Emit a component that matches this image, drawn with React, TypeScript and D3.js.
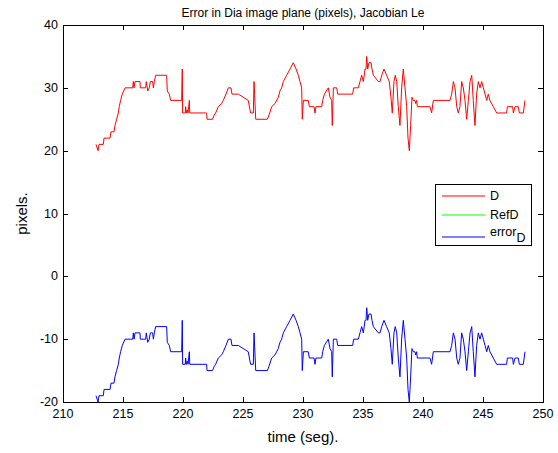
import React from "react";
import * as d3 from "d3";

// time axis samples (s)
const timeVals = [
  212.75, 212.92, 213.0, 213.36, 213.42, 213.92, 214.0, 214.25, 214.33, 214.47,
  214.61, 214.69, 214.8, 214.94, 215.17, 215.81, 215.86, 215.92, 216.0, 216.42,
  216.44, 216.89, 216.94, 217.06, 217.19, 217.28, 217.47, 217.53, 217.61, 217.72,
  218.64, 218.69, 218.86, 218.97, 219.89, 219.94, 219.97, 220.19, 220.22, 220.28,
  220.36, 220.42, 220.53, 220.56, 221.97, 222.0, 222.47, 222.58, 222.72, 222.94,
  223.22, 223.36, 223.58, 223.78, 224.0, 224.08, 224.61, 225.44, 225.58, 225.64,
  225.86, 225.92, 226.06, 227.03, 227.17, 227.39, 227.67, 227.94, 228.08, 228.22,
  228.36, 228.64, 228.92, 229.19, 229.42, 229.61, 229.75, 229.89, 229.94, 230.03,
  230.44, 230.53, 230.92, 231.0, 231.08, 231.56, 231.64, 231.78, 232.11, 232.25,
  232.39, 232.44, 232.53, 232.81, 232.89, 234.14, 234.22, 234.61, 234.75, 234.89,
  235.03, 235.17, 235.25, 235.31, 235.39, 235.5, 235.67, 235.75, 235.86, 236.28,
  236.42, 236.56, 236.75, 236.97, 237.19, 237.33, 237.44, 237.58, 237.69, 237.81,
  237.94, 238.08, 238.22, 238.36, 238.5, 238.64, 238.75, 238.86, 238.97, 239.08,
  239.19, 239.33, 239.39, 239.47, 239.53, 240.58, 240.72, 240.86, 242.25, 242.39,
  242.53, 242.67, 242.81, 242.94, 243.08, 243.22, 243.36, 243.5, 243.64, 243.78,
  243.92, 244.06, 244.19, 244.33, 244.47, 244.61, 244.75, 244.89, 245.03, 245.17,
  245.31, 245.44, 245.58, 245.86, 246.14, 246.97, 247.03, 247.47, 247.53, 247.67,
  247.94, 248.03, 248.36, 248.5,
];

// D (pixels)
const dVals = [
  21, 20, 21, 21, 22, 22, 23, 23, 24, 25,
  26, 27, 28, 29, 30, 30, 31, 30, 31, 31,
  30, 30, 31, 29.5, 30, 31, 31, 30, 31, 32,
  32, 29.5, 29, 28, 28, 33, 26, 26, 27, 26,
  26.5, 26, 28, 26, 26, 25, 25, 25.6, 26, 27,
  27.5, 28, 29, 30, 30, 29, 29, 28, 26.5, 26,
  26, 31, 25, 25, 25.7, 27, 27.5, 28.5, 29.5, 30,
  31, 32, 33, 34, 33, 32, 31, 30, 25, 28,
  28, 27, 27, 26, 27, 27, 28, 29, 30, 28.5,
  28, 24, 30, 30, 29, 29, 30, 30, 31, 32,
  31, 33, 33, 35, 33, 34, 34, 33, 32, 31,
  31, 32, 33, 32, 31, 28.5, 26, 31, 32, 31,
  27, 24, 30, 33, 30, 27, 22, 20, 24, 28.5,
  28, 28, 27.5, 28, 27, 27, 26, 28, 28, 29,
  31, 30, 27, 26, 27, 31, 30, 28, 25, 28,
  31, 32, 28, 24, 29, 31, 30, 31, 30, 29,
  28, 29, 28, 27, 26, 26, 27, 27, 26, 27,
  27, 26, 26, 28,
];

// error_D (pixels)
const errVals = [
  -19, -20, -19, -19, -18, -18, -17, -17, -16, -15,
  -14, -13, -12, -11, -10, -10, -9, -10, -9, -9,
  -10, -10, -9, -10.5, -10, -9, -9, -10, -9, -8,
  -8, -10.5, -11, -12, -12, -7, -14, -14, -13, -14,
  -13.5, -14, -12, -14, -14, -15, -15, -14.4, -14, -13,
  -12.5, -12, -11, -10, -10, -11, -11, -12, -13.5, -14,
  -14, -9, -15, -15, -14.3, -13, -12.5, -11.5, -10.5, -10,
  -9, -8, -7, -6, -7, -8, -9, -10, -15, -12,
  -12, -13, -13, -14, -13, -13, -12, -11, -10, -11.5,
  -12, -16, -10, -10, -11, -11, -10, -10, -9, -8,
  -9, -7, -7, -5, -7, -6, -6, -7, -8, -9,
  -9, -8, -7, -8, -9, -11.5, -14, -9, -8, -9,
  -13, -16, -10, -7, -10, -13, -18, -20, -16, -11.5,
  -12, -12, -12.5, -12, -13, -13, -14, -12, -12, -11,
  -9, -10, -13, -14, -13, -9, -10, -12, -15, -12,
  -9, -8, -12, -16, -11, -9, -10, -9, -10, -11,
  -12, -11, -12, -13, -14, -14, -13, -13, -14, -13,
  -13, -14, -14, -12,
];

// RefD (pixels)
const refTime = [212.75, 248.5];
const refVals = [40, 40];

const xTicks = [210, 215, 220, 225, 230, 235, 240, 245, 250];
const yTicks = [-20, -10, 0, 10, 20, 30, 40];

const W = 558;
const H = 453;
const left = 63;
const right = 543;
const top = 25;
const bottom = 402;
const font = "Liberation Sans, Arial, Helvetica, sans-serif";

export default function App() {
  const x = d3.scaleLinear().domain([210, 250]).range([left, right]);
  const y = d3.scaleLinear().domain([-20, 40]).range([bottom, top]);

  const line = d3
    .line<[number, number]>()
    .x((d) => x(d[0]))
    .y((d) => y(d[1]));

  const dPts = timeVals.map((t, i) => [t, dVals[i]] as [number, number]);
  const ePts = timeVals.map((t, i) => [t, errVals[i]] as [number, number]);
  const rPts = refTime.map((t, i) => [t, refVals[i]] as [number, number]);

  const tick = 5;

  return (
    <svg
      width={W}
      height={H}
      style={{ position: "absolute", left: 0, top: 0, background: "#fff" }}
      fontFamily={font}
    >
      <rect x={0} y={0} width={W} height={H} fill="#fff" />
      <defs>
        <clipPath id="plot">
          <rect x={left} y={top} width={right - left} height={bottom - top} />
        </clipPath>
      </defs>

      <g clipPath="url(#plot)" fill="none" strokeWidth={1}>
        <path d={line(dPts) || ""} stroke="#ff0000" />
        <path d={line(rPts) || ""} stroke="#00ff00" />
        <path d={line(ePts) || ""} stroke="#0000ff" />
      </g>

      {/* axes box */}
      <g shapeRendering="crispEdges" stroke="#000" strokeWidth={1}>
        <rect
          x={left + 0.5}
          y={top + 0.5}
          width={right - left}
          height={bottom - top}
          fill="none"
        />
        {xTicks.map((t) => (
          <g key={"x" + t}>
            <line x1={x(t) + 0.5} x2={x(t) + 0.5} y1={bottom} y2={bottom - tick} />
            <line x1={x(t) + 0.5} x2={x(t) + 0.5} y1={top} y2={top + tick} />
          </g>
        ))}
        {yTicks.map((t) => (
          <g key={"y" + t}>
            <line x1={left} x2={left + tick} y1={y(t) + 0.5} y2={y(t) + 0.5} />
            <line x1={right} x2={right - tick} y1={y(t) + 0.5} y2={y(t) + 0.5} />
          </g>
        ))}
      </g>

      <g fontSize={12.5} fill="#000">
        {xTicks.map((t) => (
          <text key={"xl" + t} x={x(t)} y={bottom + 16} textAnchor="middle">
            {t}
          </text>
        ))}
        {yTicks.map((t) => (
          <text
            key={"yl" + t}
            x={left - 5}
            y={y(t)}
            textAnchor="end"
            dominantBaseline="central"
          >
            {t}
          </text>
        ))}
      </g>

      <text x={303} y={17} textAnchor="middle" fontSize={12}>
        Error in Dia image plane (pixels), Jacobian Le
      </text>
      <text x={303} y={442} textAnchor="middle" fontSize={15}>
        time (seg).
      </text>
      <text
        transform={`translate(27,${(top + bottom) / 2}) rotate(-90)`}
        textAnchor="middle"
        fontSize={15}
      >
        pixels.
      </text>

      {/* legend */}
      <g>
        <rect
          x={435.5}
          y={184.5}
          width={96}
          height={61}
          fill="#fff"
          stroke="#000"
          shapeRendering="crispEdges"
        />
        <line x1={442} x2={485} y1={196} y2={196} stroke="#ff0000" />
        <line x1={442} x2={485} y1={215} y2={215} stroke="#00ff00" />
        <line x1={442} x2={485} y1={237} y2={237} stroke="#0000ff" />
        <g fontSize={12.5} fill="#000">
          <text x={490} y={200}>D</text>
          <text x={490} y={219}>RefD</text>
          <text x={490} y={236}>
            error
            <tspan dy={6} fontSize={12.5}>D</tspan>
          </text>
        </g>
      </g>
    </svg>
  );
}
